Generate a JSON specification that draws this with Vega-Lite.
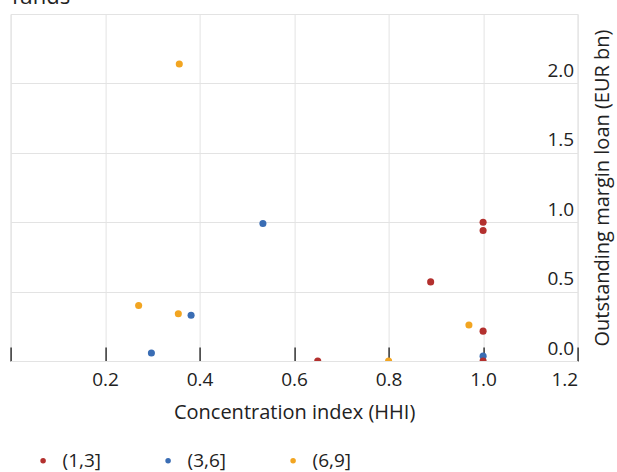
{
  "$schema": "https://vega.github.io/schema/vega-lite/v6.json",
  "width": 567,
  "height": 347,
  "autosize": {"type": "none"},
  "padding": {"left": 10.6, "top": 14, "right": 39.4, "bottom": 111},
  "background": "white",
  "title": {"text": "funds", "anchor": "start", "fontSize": 22, "font": "Open Sans", "fontWeight": "normal", "color": "#222", "baseline": "alphabetic", "offset": 3, "dy": 15, "dx": 2},
  "config": {"view": {"stroke": "#e3e3e3"}, "font": "Open Sans"},
  "data": {"values": [
    {"hhi": 0.534, "loan": 0.99, "group": "(3,6]"},
    {"hhi": 0.382, "loan": 0.33, "group": "(3,6]"},
    {"hhi": 0.298, "loan": 0.058, "group": "(3,6]"},
    {"hhi": 1.0, "loan": 0.035, "group": "(3,6]"},
    {"hhi": 0.357, "loan": 2.14, "group": "(6,9]"},
    {"hhi": 0.271, "loan": 0.40, "group": "(6,9]"},
    {"hhi": 0.355, "loan": 0.34, "group": "(6,9]"},
    {"hhi": 0.80, "loan": 0.0, "group": "(6,9]"},
    {"hhi": 0.97, "loan": 0.26, "group": "(6,9]"},
    {"hhi": 1.0, "loan": 1.0, "group": "(1,3]"},
    {"hhi": 1.0, "loan": 0.94, "group": "(1,3]"},
    {"hhi": 0.889, "loan": 0.57, "group": "(1,3]"},
    {"hhi": 1.0, "loan": 0.215, "group": "(1,3]"},
    {"hhi": 0.65, "loan": 0.0, "group": "(1,3]"},
    {"hhi": 1.0, "loan": 0.0, "group": "(1,3]"}
  ]},
  "mark": {"type": "point", "filled": true, "size": 50, "opacity": 1, "clip": true},
  "encoding": {
    "x": {
      "field": "hhi", "type": "quantitative",
      "scale": {"domain": [0, 1.2], "nice": false, "zero": false},
      "axis": {
        "title": "Concentration index (HHI)",
        "values": [0, 0.2, 0.4, 0.6, 0.8, 1.0, 1.2],
        "format": ".1f",
        "labelExpr": "datum.value == 0 ? '' : datum.label",
        "tickSize": -14, "tickColor": "#333", "tickWidth": 1.5,
        "domainColor": "#e3e3e3", "gridColor": "#e3e3e3",
        "labelFontSize": 19, "labelColor": "#222", "labelPadding": 23,
        "titleFontSize": 20, "titleFontWeight": "normal", "titleColor": "#222", "titlePadding": 13
      }
    },
    "y": {
      "field": "loan", "type": "quantitative",
      "scale": {"domain": [0, 2.5], "nice": false},
      "axis": {
        "orient": "right",
        "title": "Outstanding margin loan (EUR bn)",
        "values": [0, 0.5, 1, 1.5, 2, 2.5],
        "format": ".1f",
        "labelExpr": "datum.value == 2.5 ? '' : datum.label",
        "ticks": false, "domain": false, "gridColor": "#e3e3e3",
        "labelAlign": "right", "labelBaseline": "alphabetic", "labelPadding": -4, "labelOffset": -7,
        "labelFontSize": 19, "labelColor": "#222",
        "titleAngle": 270, "titleX": 25, "titleY": 173.5, "titleBaseline": "middle", "titleAlign": "center",
        "titleFontSize": 20, "titleFontWeight": "normal", "titleColor": "#222"
      }
    },
    "color": {
      "field": "group", "type": "nominal",
      "scale": {"domain": ["(1,3]", "(3,6]", "(6,9]"], "range": ["#b3302e", "#3a6db4", "#f2a521"]},
      "legend": {
        "orient": "none", "legendX": 23, "legendY": 437, "direction": "horizontal", "title": null,
        "labelFontSize": 19, "labelColor": "#222", "symbolSize": 30, "labelOffset": 10, "columnPadding": 57
      }
    }
  }
}
